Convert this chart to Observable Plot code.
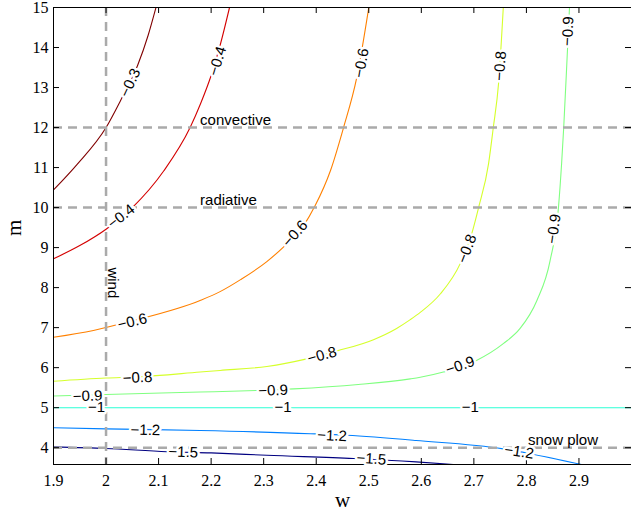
<!DOCTYPE html>
<html><head><meta charset="utf-8">
<script src="https://cdn.jsdelivr.net/npm/d3@7"></script>
<script src="https://cdn.jsdelivr.net/npm/@observablehq/plot@0.6"></script>
<style>body{margin:0;background:#fff}</style>
</head><body><div id="chart"></div>
<script>
// ---- data ----
const xDomain = [1.9, 3.0];
const yDomain = [3.58, 15];
const xTicks = [1.9, 2, 2.1, 2.2, 2.3, 2.4, 2.5, 2.6, 2.7, 2.8, 2.9];
const yTicks = [4, 5, 6, 7, 8, 9, 10, 11, 12, 13, 14, 15];

const levels = [-0.3, -0.4, -0.6, -0.8, -0.9, -1, -1.2, -1.5];
const levelColors = ["#800000", "#d40000", "#ff8000", "#d5ff2b", "#80ff80", "#2bffd5", "#0080ff", "#000080"];

const contourW = [
  [1.9, 1.945, 2.0, 2.027, 2.06, 2.08, 2.095],
  [1.9, 1.95, 2.0, 2.05, 2.11, 2.16, 2.18, 2.2, 2.218, 2.235],
  [1.9, 1.976, 2.05, 2.179, 2.217, 2.256, 2.306, 2.338, 2.376, 2.398, 2.427, 2.452, 2.477, 2.5],
  [1.9, 2.0, 2.06, 2.179, 2.217, 2.306, 2.382, 2.44, 2.509, 2.553, 2.579, 2.598, 2.636, 2.674, 2.696, 2.709, 2.728, 2.737, 2.747, 2.756],
  [1.9, 2.0, 2.179, 2.287, 2.357, 2.48, 2.579, 2.598, 2.642, 2.705, 2.756, 2.788, 2.82, 2.845, 2.861, 2.867, 2.871, 2.878, 2.882],
  [1.9, 3.0],
  [1.9, 2.0, 2.179, 2.389, 2.458, 2.59, 2.756, 2.807, 2.905],
  [1.9, 2.0, 2.116, 2.2, 2.306, 2.471, 2.59, 2.661]
];
const contourM = [
  [10.44, 11.08, 12.0, 12.66, 13.55, 14.3, 15],
  [8.72, 9.05, 9.46, 10.0, 10.92, 12.0, 12.6, 13.3, 14.1, 15],
  [6.76, 6.93, 7.17, 7.68, 7.9, 8.2, 8.65, 9.02, 9.55, 10.05, 10.92, 12.0, 13.24, 15],
  [5.66, 5.74, 5.77, 5.89, 5.93, 6.03, 6.22, 6.42, 6.7, 6.98, 7.2, 7.38, 7.84, 8.6, 9.35, 10.0, 11.1, 12.0, 13.1, 15],
  [5.29, 5.33, 5.39, 5.43, 5.47, 5.58, 5.72, 5.76, 5.89, 6.18, 6.6, 6.98, 7.68, 8.67, 10.0, 11.1, 12.0, 13.9, 15],
  [5, 5],
  [4.50, 4.47, 4.43, 4.35, 4.31, 4.18, 3.97, 3.85, 3.58],
  [4.02, 3.98, 3.9, 3.87, 3.81, 3.73, 3.645, 3.58]
];

const labelLevel = [-0.3, -0.4, -0.4, -0.6, -0.6, -0.6, -0.8, -0.8, -0.8, -0.8, -0.9, -0.9, -0.9, -0.9, -0.9, -1, -1, -1, -1.2, -1.2, -1.2, -1.5, -1.5];
const labelW = [2.046, 2.029, 2.212, 2.05, 2.36, 2.486, 2.06, 2.411, 2.687, 2.75, 1.965, 2.318, 2.674, 2.852, 2.879, 1.982, 2.337, 2.693, 2.075, 2.43, 2.786, 2.147, 2.505];
const labelM = [13.12, 9.78, 13.66, 7.15, 9.35, 13.61, 5.75, 6.31, 8.97, 13.54, 5.29, 5.43, 6.05, 9.47, 14.41, 5, 5, 5, 4.44, 4.30, 3.9, 3.89, 3.72];
const labelAngle = [-65, -38, -73, -13, -49, -80, -3, -15, -69, -86, -2, -2, -19, -82, -87, 0, 0, 0, 1, 3, 9, 2, 4];

const windW = [2];
const regimeM = [12, 10, 4];
const regionText = ["convective", "radiative", "snow plow"];
const regionW = [2.179, 2.179, 2.803];
const regionM = [12, 10, 4];
const windText = ["wind"];
const windLabelW = [2.013];
const windLabelM = [8.12];
const xLabel = ["w"];
const yLabel = ["m"];

// ---- build tables ----
const W = 631, H = 510, mL = 53, mR = 0, mT = 7, mB = 46;
const innerW = W - mL - mR, innerH = H - mT - mB;
const labelRows = labelLevel.map((v, i) => ({level: v, w: labelW[i], m: labelM[i], a: labelAngle[i]}));
const regionRows = regionText.map((t, i) => ({t, w: regionW[i], m: regionM[i]}));
const sans = "'Liberation Sans', Arial, sans-serif";
const serif = "'Liberation Serif', 'Times New Roman', serif";
const dash = {stroke: "#aaaaaa", strokeWidth: 2.5, strokeDasharray: "9,6"};

const chart = Plot.plot({
  width: W, height: H,
  marginLeft: mL, marginRight: mR, marginTop: mT, marginBottom: mB,
  style: {fontFamily: serif, fontSize: "16px", background: "white", color: "black"},
  x: {domain: xDomain, ticks: xTicks, tickSize: 0, tickPadding: 10, tickFormat: d => String(d), label: null},
  y: {domain: yDomain, ticks: yTicks, tickSize: 0, tickPadding: 5, label: null},
  marks: [
    ...levels.map((lv, i) => Plot.line(contourW[i].map((w, j) => ({w, m: contourM[i][j]})),
      {x: "w", y: "m", stroke: levelColors[i], strokeWidth: 1.1, curve: "monotone-x", clip: true})),
    Plot.ruleX(windW, {x: d => d, ...dash}),
    Plot.ruleY(regimeM, {y: d => d, ...dash}),
    Plot.ruleX([xDomain[0]], {x: d => d, stroke: "black"}),
    Plot.ruleY([yDomain[0], yDomain[1]], {y: d => d, stroke: "black"}),
    Plot.tickX(xTicks, {x: d => d, insetTop: innerH - 6, stroke: "black"}),
    Plot.tickX(xTicks, {x: d => d, insetBottom: innerH - 6, stroke: "black"}),
    Plot.tickY(yTicks, {y: d => d, insetRight: innerW - 6, stroke: "black"}),
    Plot.tickY(yTicks, {y: d => d, insetLeft: innerW - 6, stroke: "black"}),
    Plot.text(labelRows, {x: "w", y: "m", text: d => "\u2212" + Math.abs(d.level), rotate: d => d.a,
      fill: "black", stroke: "white", strokeWidth: 5, paintOrder: "stroke",
      fontFamily: sans, fontSize: 15, textAnchor: "middle", lineAnchor: "middle"}),
    Plot.text(regionRows, {x: "w", y: "m", text: "t", fontFamily: sans, fontSize: 15,
      textAnchor: "start", lineAnchor: "bottom", dy: -3, fill: "black"}),
    Plot.text(windText, {x: () => windLabelW[0], y: () => windLabelM[0], text: d => d, rotate: 90,
      fontFamily: sans, fontSize: 15, textAnchor: "middle", lineAnchor: "middle", fill: "black"}),
    Plot.text(xLabel, {frameAnchor: "bottom", text: d => d, dy: 42, lineAnchor: "bottom",
      fontFamily: serif, fontSize: 21, fill: "black"}),
    Plot.text(yLabel, {frameAnchor: "left", text: d => d, dx: -39, rotate: -90, lineAnchor: "middle",
      fontFamily: serif, fontSize: 21, fill: "black"})
  ]
});
document.getElementById("chart").appendChild(chart);
</script></body></html>
